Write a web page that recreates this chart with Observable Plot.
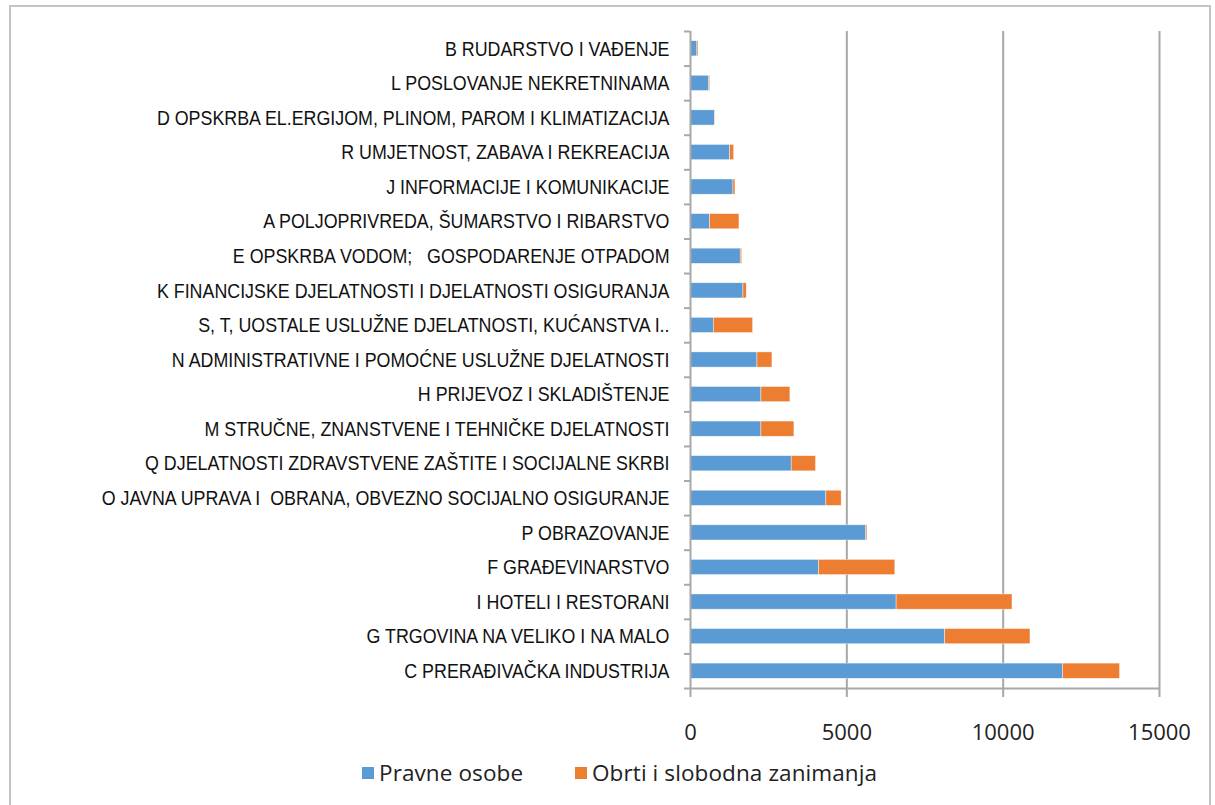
<!DOCTYPE html>
<html>
<head>
<meta charset="utf-8">
<script src="https://cdn.jsdelivr.net/npm/d3@7"></script>
<script src="https://cdn.jsdelivr.net/npm/@observablehq/plot@0.6"></script>
<style>
  html, body { margin: 0; padding: 0; background: #fff; }
  #wrap { position: relative; width: 1215px; height: 805px; overflow: hidden; }
  #frame { position: absolute; left: 9px; top: 5px; width: 1202px; height: 810px; border: 2px solid #c4c4c4; box-sizing: border-box; pointer-events: none; }
  #chart { position: absolute; left: 0; top: 0; }
  #legend { position: absolute; top: 757px; left: 0; width: 1215px; font-family: "Open Sans", sans-serif; font-size: 22.5px; color: #222; }
  .item { position: absolute; display: flex; align-items: center; white-space: nowrap; letter-spacing: 0.1px; }
  .sw { width: 12px; height: 12px; margin-right: 5px; display: inline-block; }
</style>
</head>
<body>
<div id="wrap">
  <div id="chart"></div>
  <div id="frame"></div>
  <div id="legend"></div>
</div>
<script>
const categories = [
  "B RUDARSTVO I VAĐENJE",
  "L POSLOVANJE NEKRETNINAMA",
  "D OPSKRBA EL.ERGIJOM, PLINOM, PAROM I KLIMATIZACIJA",
  "R UMJETNOST, ZABAVA I REKREACIJA",
  "J INFORMACIJE I KOMUNIKACIJE",
  "A POLJOPRIVREDA, ŠUMARSTVO I RIBARSTVO",
  "E OPSKRBA VODOM;   GOSPODARENJE OTPADOM",
  "K FINANCIJSKE DJELATNOSTI I DJELATNOSTI OSIGURANJA",
  "S, T, UOSTALE USLUŽNE DJELATNOSTI, KUĆANSTVA I..",
  "N ADMINISTRATIVNE I POMOĆNE USLUŽNE DJELATNOSTI",
  "H PRIJEVOZ I SKLADIŠTENJE",
  "M STRUČNE, ZNANSTVENE I TEHNIČKE DJELATNOSTI",
  "Q DJELATNOSTI ZDRAVSTVENE ZAŠTITE I SOCIJALNE SKRBI",
  "O JAVNA UPRAVA I  OBRANA, OBVEZNO SOCIJALNO OSIGURANJE",
  "P OBRAZOVANJE",
  "F GRAĐEVINARSTVO",
  "I HOTELI I RESTORANI",
  "G TRGOVINA NA VELIKO I NA MALO",
  "C PRERAĐIVAČKA INDUSTRIJA"
];
const pravneOsobe = [220, 600, 777, 1268, 1374, 629, 1607, 1693, 745, 2141, 2268, 2268, 3237, 4345, 5623, 4112, 6592, 8147, 11917];
const obrti      = [35, 30, 10, 128, 64, 936, 45, 106, 1258, 479, 927, 1055, 778, 489, 35, 2438, 3706, 2726, 1821];
const xTicks = [0, 5000, 10000, 15000];
const seriesNames = ["Pravne osobe", "Obrti i slobodna zanimanja"];
const seriesColors = ["#5b9bd5", "#ed7d31"];

const rows = [];
categories.forEach((c, i) => {
  rows.push({i, series: seriesNames[0], x1: 0, x2: pravneOsobe[i]});
  rows.push({i, series: seriesNames[1], x1: pravneOsobe[i], x2: pravneOsobe[i] + obrti[i]});
});
const idx = categories.map((c, i) => i);
const bounds = [-0.5, ...idx.map(i => i + 0.5)];
const half = 0.22;
const axisGray = "#a8a8a8";

const chart = Plot.plot({
  width: 1215,
  height: 760,
  marginLeft: 690,
  marginRight: 56,
  marginTop: 31,
  marginBottom: 72,
  x: {domain: [0, 15000]},
  y: {domain: [-0.5, categories.length - 0.5], reverse: true},
  color: {domain: seriesNames, range: seriesColors},
  style: {background: "transparent"},
  marks: [
    Plot.ruleX(xTicks.slice(1), {stroke: axisGray, strokeWidth: 2}),
    Plot.rectX(rows, {x1: "x1", x2: "x2", y1: d => d.i - half, y2: d => d.i + half, fill: "series", stroke: "#fff", strokeWidth: 0.6, strokeOpacity: 0.7}),
    Plot.ruleY([categories.length - 0.5], {x1: 0, x2: 15000, stroke: axisGray, strokeWidth: 2}),
    Plot.ruleX([0], {stroke: axisGray, strokeWidth: 2}),
    Plot.axisX({ticks: xTicks, tickFormat: d => String(d), tickSize: 9, tickPadding: 27, stroke: axisGray, strokeWidth: 2, strokeOpacity: 1,
      fontSize: 22, fontFamily: "Open Sans, sans-serif", fill: "#222", label: null}),
    Plot.axisY({ticks: bounds, tickFormat: () => "", tickSize: 6, stroke: axisGray, strokeWidth: 2, strokeOpacity: 1, label: null}),
    Plot.axisY({ticks: idx, tickFormat: i => categories[i], tickSize: 0, tickPadding: 21, fontSize: 21,
      fontFamily: "Liberation Sans, Arial, sans-serif", fill: "#111", label: null})
  ]
});
document.getElementById("chart").appendChild(chart);

// condense the category labels horizontally (reference uses a narrow face)
const catSet = new Set(categories);
d3.select(chart).selectAll("text").each(function() {
  if (!catSet.has(this.textContent)) return;
  const t = this.getAttribute("transform");
  if (t) {
    this.setAttribute("transform", t + " scale(0.85,1)");
  } else {
    const x = +this.getAttribute("x") || 0;
    this.setAttribute("transform", `translate(${x},0) scale(0.85,1) translate(${-x},0)`);
  }
});

const legend = document.getElementById("legend");
const lefts = [362, 575];
seriesNames.forEach((s, k) => {
  const it = document.createElement("div");
  it.className = "item";
  it.style.left = lefts[k] + "px";
  const sw = document.createElement("span");
  sw.className = "sw";
  sw.style.background = seriesColors[k];
  it.appendChild(sw);
  it.appendChild(document.createTextNode(s));
  legend.appendChild(it);
});
</script>
</body>
</html>
